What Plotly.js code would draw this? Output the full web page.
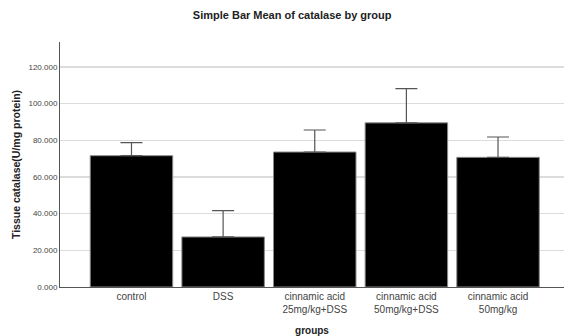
<!DOCTYPE html>
<html>
<head>
<meta charset="utf-8">
<script src="https://cdn.plot.ly/plotly-3.0.1.min.js"></script>
<style>html,body{margin:0;padding:0;background:#fff;}#chart{width:564px;height:336px;}</style>
</head>
<body>
<div id="chart"></div>
<script>
var categories = ["control", "DSS", "cinnamic acid<br>25mg/kg+DSS", "cinnamic acid<br>50mg/kg+DSS", "cinnamic acid<br>50mg/kg"];
var means = [71.6, 27.3, 73.6, 89.5, 70.7];
var upperErr = [7.1, 14.3, 12.0, 18.7, 11.1];
var lowerErr = [0, 0, 0, 0, 0];
var yTicks = [0, 20, 40, 60, 80, 100, 120];

var trace = {
  type: "bar",
  x: categories,
  y: means,
  marker: {color: "#000000", line: {color: "#8a8a8a", width: 1}},
  error_y: {type: "data", array: upperErr, arrayminus: lowerErr, symmetric: false, color: "#555555", thickness: 1.2, width: 11},
  hoverinfo: "none"
};

var layout = {
  width: 564, height: 336,
  margin: {l: 60, r: 0, t: 42, b: 49},
  paper_bgcolor: "#ffffff", plot_bgcolor: "#ffffff",
  font: {family: "Liberation Sans, Arial, sans-serif", color: "#333333"},
  title: {text: "<b>Simple Bar Mean of catalase by group</b>", font: {size: 11, color: "#222222"}, x: 0.518, xanchor: "center", y: 0.955, yanchor: "middle"},
  bargap: 0.1,
  showlegend: false,
  xaxis: {
    type: "category",
    range: [-0.78, 4.72],
    showgrid: false,
    showline: true, linecolor: "#555555", linewidth: 1,
    ticks: "", tickfont: {size: 10, color: "#444444"},
    title: {text: "<b>groups</b>", font: {size: 10, color: "#222222"}, standoff: 16},
    fixedrange: true
  },
  yaxis: {
    range: [0, 133.6],
    tickvals: yTicks,
    tickformat: ".3f",
    showgrid: true, gridcolor: "#dcdcdc", gridwidth: 1.5,
    showline: true, linecolor: "#555555", linewidth: 1,
    zeroline: false,
    ticks: "", ticklen: 0,
    tickfont: {size: 8, color: "#444444"},
    title: {text: "<b>Tissue catalase(U/mg protein)</b>", font: {size: 10.5, color: "#222222"}, standoff: 5},
    fixedrange: true
  }
};

Plotly.newPlot("chart", [trace], layout, {displayModeBar: false, staticPlot: true});
</script>
</body>
</html>
